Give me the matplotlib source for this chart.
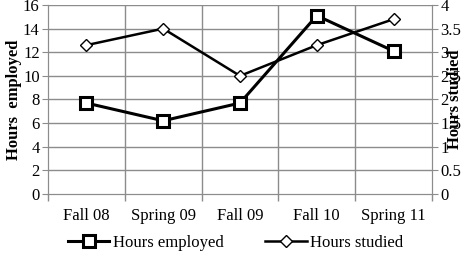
import matplotlib
matplotlib.use("Agg")
import matplotlib.pyplot as plt
import numpy as np

categories = ["Fall 08", "Spring 09", "Fall 09", "Fall 10", "Spring 11"]
hours_employed = [7.7, 6.2, 7.7, 15.1, 12.1]
hours_studied = [3.15, 3.5, 2.5, 3.15, 3.7]

plt.rcParams['font.family'] = ['Liberation Serif', 'DejaVu Serif']

fig = plt.figure(figsize=(4.71, 2.57), dpi=100)
ax = fig.add_axes([48/471, 1-194/257, (432-48)/471, (194-5)/257])
ax2 = ax.twinx()

x = np.arange(len(categories))
grid_c = '#8c8c8c'
ax.set_xlim(-0.5, len(categories)-0.5)
ax.set_ylim(0, 16)
ax.set_yticks(np.arange(0, 17, 2))
ax2.set_ylim(0, 4)
ax2.set_yticks(np.arange(0, 4.01, 0.5))
ax2.set_yticklabels(["0", "0.5", "1", "1.5", "2", "2.5", "3", "3.5", "4"])

for yv in np.arange(2, 17, 2):
    ax.axhline(yv, color=grid_c, lw=1, zorder=0)
for xv in np.arange(0.5, len(categories)-0.5, 1):
    ax.axvline(xv, color=grid_c, lw=1, zorder=0)

ax.set_xticks(x)
ax.set_xticklabels(categories, fontsize=12)
ax.set_xticks(np.arange(-0.5, len(categories), 1), minor=True)
ax.tick_params(axis='x', which='major', length=0, pad=10)
ax.tick_params(axis='x', which='minor', length=5, color=grid_c, width=1)
ax.tick_params(axis='y', length=4, color=grid_c, labelsize=12, pad=2)
ax2.tick_params(axis='y', length=4, color=grid_c, labelsize=12, pad=2)

for a in (ax, ax2):
    for s in a.spines.values():
        s.set_color(grid_c)
    a.spines['top'].set_visible(False)

l1, = ax.plot(x, hours_employed, color='black', lw=2.2, marker='s', ms=8,
              mfc='white', mec='black', mew=2.2, zorder=3, label='Hours employed')
l2, = ax2.plot(x, hours_studied, color='black', lw=1.8, marker='D', ms=6,
               mfc='white', mec='black', mew=1, zorder=3, label='Hours studied')

ax.set_ylabel("Hours  employed", fontsize=12, fontweight='bold', labelpad=1)
ax2.set_ylabel("Hours studied", fontsize=12, fontweight='bold', labelpad=-10)

fig.legend(handles=[l1, l2], loc='center', bbox_to_anchor=(0.5, 1 - 243/257),
           ncol=2, frameon=False, fontsize=12, handlelength=2.5, columnspacing=2.5,
           handletextpad=0.2, borderpad=0)

fig.savefig("out.png", dpi=100)
